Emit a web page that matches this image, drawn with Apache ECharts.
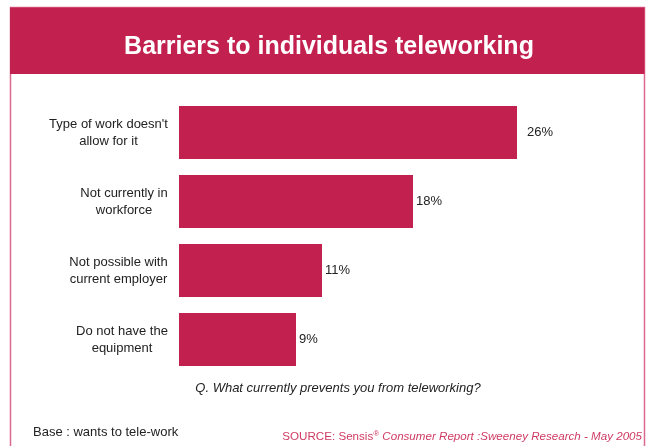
<!DOCTYPE html>
<html>
<head>
<meta charset="utf-8">
<script src="https://cdn.jsdelivr.net/npm/echarts@6/dist/echarts.min.js"></script>
<style>
  html, body { margin: 0; padding: 0; background: #ffffff; }
  #chart { width: 650px; height: 446px; }
</style>
</head>
<body>
<div id="chart"></div>
<script>
// Barriers to teleworking, share of respondents (%)
const categories = [
  "Type of work doesn't\nallow for it",
  "Not currently in\nworkforce",
  "Not possible with\ncurrent employer",
  "Do not have the\nequipment"
];
const values = [26, 18, 11, 9];

const titleText = 'Barriers to individuals teleworking';
const questionText = 'Q. What currently prevents you from teleworking?';
const baseText = 'Base : wants to tele-work';

const CRIMSON = '#c2214f';
const BORDER = '#dc6a8c';
const FONT = '"Liberation Sans", Arial, sans-serif';

// Measure label lines so each multi-line label is centred within its own block
const ctx = document.createElement('canvas').getContext('2d');
ctx.font = '13px ' + FONT;
const rich = {};
categories.forEach((c, i) => {
  const w = Math.max(...c.split('\n').map(s => ctx.measureText(s).width));
  rich['c' + i] = { width: Math.ceil(w), align: 'center', fontSize: 13, lineHeight: 17, color: '#222', fontFamily: FONT };
});

const chart = echarts.init(document.getElementById('chart'), null, { renderer: 'canvas' });

const option = {
  animation: false,
  backgroundColor: '#ffffff',
  grid: { left: 179, top: 98, width: 390, height: 276, containLabel: false },
  xAxis: {
    type: 'value', min: 0, max: 30,
    show: false
  },
  yAxis: {
    type: 'category',
    data: categories,
    inverse: true,
    axisLine: { show: false },
    axisTick: { show: false },
    splitLine: { show: false },
    axisLabel: {
      margin: 11,
      align: 'right',
      formatter: (v, i) => v.split('\n').map(s => '{c' + i + '|' + s + '}').join('\n'),
      rich: rich
    }
  },
  series: [{
    type: 'bar',
    barWidth: 53,
    itemStyle: { color: CRIMSON },
    data: values.map((v, i) => ({
      value: v,
      label: { distance: i === 0 ? 10 : 3 }
    })),
    label: {
      show: true,
      position: 'right',
      formatter: '{c}%',
      fontSize: 13,
      color: '#222',
      fontFamily: FONT
    }
  }],
  graphic: [
    {
      type: 'rect', silent: true, z: -1,
      shape: { x: 10.5, y: 7.5, width: 634, height: 470 },
      style: { fill: '#ffffff', stroke: BORDER, lineWidth: 1.5 }
    },
    {
      type: 'rect', silent: true,
      shape: { x: 10, y: 7.5, width: 634.5, height: 66.5 },
      style: { fill: CRIMSON }
    },
    {
      type: 'text', silent: true,
      x: 329, y: 47,
      style: {
        text: titleText, fill: '#ffffff',
        font: 'bold 25px ' + FONT,
        textAlign: 'center', textVerticalAlign: 'middle'
      }
    },
    {
      type: 'text', silent: true,
      x: 338, y: 388,
      style: {
        text: questionText, fill: '#222',
        font: 'italic 13px ' + FONT,
        textAlign: 'center', textVerticalAlign: 'middle'
      }
    },
    {
      type: 'text', silent: true,
      x: 33, y: 432,
      style: {
        text: baseText, fill: '#222',
        font: '13px ' + FONT,
        textAlign: 'left', textVerticalAlign: 'middle'
      }
    },
    {
      type: 'text', silent: true,
      x: 642, y: 437,
      style: {
        text: '{n|SOURCE: Sensis}{s|®}{i| Consumer Report :Sweeney Research - May 2005}',
        textAlign: 'right', textVerticalAlign: 'middle',
        rich: {
          n: { fontSize: 11.6, fontFamily: FONT, fill: '#cf3a63' },
          s: { fontSize: 8, fontFamily: FONT, fill: '#cf3a63', verticalAlign: 'top', padding: [0, 0, 6, 0] },
          i: { fontSize: 11.6, fontFamily: FONT, fontStyle: 'italic', fill: '#cf3a63' }
        }
      }
    }
  ]
};

chart.setOption(option);
</script>
</body>
</html>
